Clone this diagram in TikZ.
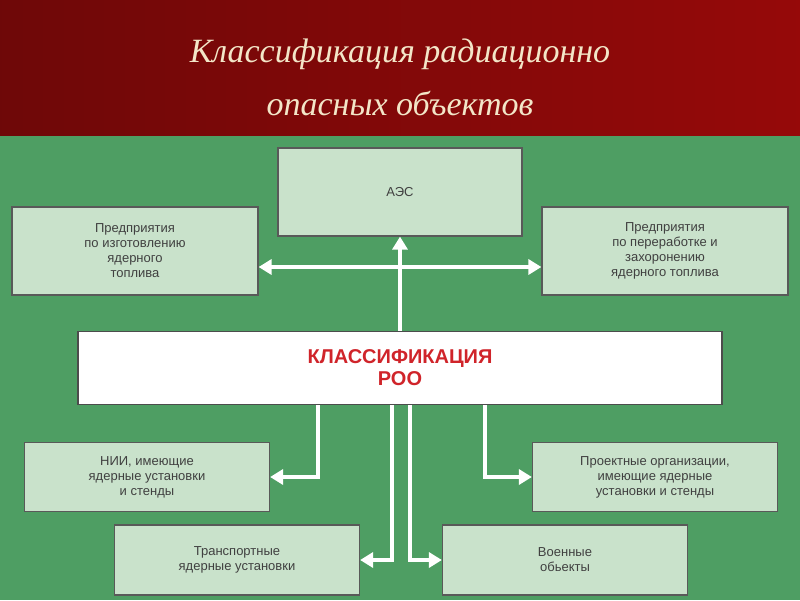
\documentclass[tikz,border=0pt]{standalone}
\usepackage{fontspec}
\setmainfont{Liberation Serif}
\setsansfont{Liberation Sans}
\usetikzlibrary{arrows.meta,positioning}
\definecolor{bandred}{HTML}{8A0A0A}
\definecolor{bgreen}{HTML}{4E9E63}
\definecolor{boxfill}{HTML}{C9E2CB}
\definecolor{titlecol}{HTML}{F3E6C8}
\definecolor{roored}{HTML}{D0242A}

\begin{document}
\begin{tikzpicture}[x=1pt, y=-1pt,
  box/.style={draw=gray!70!black, line width=1.2pt, fill=boxfill, align=center, inner sep=0pt,
    font=\sffamily\fontsize{13}{15}\selectfont, text=black!75},
  arr/.style={-{Triangle[length=13pt, width=15pt]}, white, line width=4.5pt},
  darr/.style={{Triangle[length=13pt, width=15pt]}-{Triangle[length=13pt, width=15pt]}, white, line width=4.5pt}
]
  \useasboundingbox (0,0) rectangle (800,600);
  % background
  \fill[bgreen] (0,135) rectangle (800,600);
  \shade[left color=bandred!80!black, right color=bandred!90!red] (0,0) rectangle (800,135);
  \node[text=titlecol, font=\itshape\fontsize{34}{53}\selectfont, align=center] (title) at (400,77)
    {Классификация радиационно\\опасных объектов};

  % upper row
  \node[box, minimum width=244pt, minimum height=88pt] (aes) at (400,192) {АЭС};
  \node[box, minimum width=246pt, minimum height=88pt] (izg) at (135,251)
    {Предприятия\\по изготовлению\\ядерного\\топлива};
  \node[box, minimum width=246pt, minimum height=88pt] (per) at (665,251)
    {Предприятия\\по переработке и\\захоронению\\ядерного топлива};

  % centre
  \node[draw=gray!60!black, line width=1.2pt, fill=white, minimum width=644pt, minimum height=73pt,
    align=center, text=roored, font=\sffamily\bfseries\fontsize{20}{22}\selectfont] (roo) at (400,368)
    {КЛАССИФИКАЦИЯ\\РОО};

  % lower rows
  \node[box, minimum width=245pt, minimum height=69pt] (nii) at (147,477)
    {НИИ, имеющие\\ядерные установки\\и стенды};
  \node[box, minimum width=245pt, minimum height=69pt] (proj) at (655,477)
    {Проектные организации,\\имеющие ядерные\\установки и стенды};
  \node[box, minimum width=245pt, minimum height=70pt] (trans) at (237,560)
    {Транспортные\\ядерные установки};
  \node[box, minimum width=245pt, minimum height=70pt] (voen) at (565,560)
    {Военные\\обьекты};

  % connectors
  \draw[arr] (roo.north) -- (aes.south);
  \draw[darr] (izg.east |- 0,267) -- (per.west |- 0,267);
  \draw[arr] (roo.south -| 318,0) |- (nii.east);
  \draw[arr] (roo.south -| 485,0) |- (proj.west);
  \draw[arr] (roo.south -| 392,0) |- (trans.east);
  \draw[arr] (roo.south -| 410,0) |- (voen.west);
\end{tikzpicture}
\end{document}
